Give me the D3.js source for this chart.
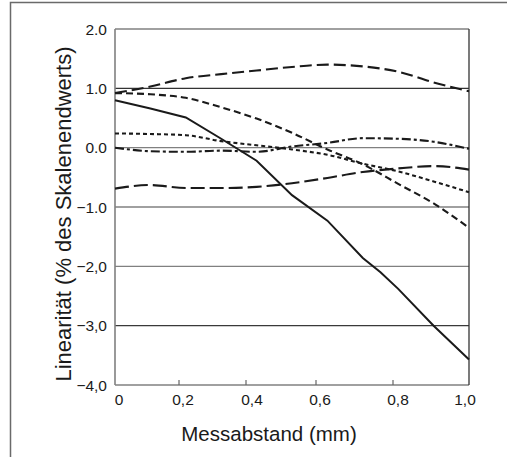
<!DOCTYPE html>
<html><head><meta charset="utf-8">
<script src="https://cdn.jsdelivr.net/npm/d3@7"></script>
<style>body{margin:0;background:#fff}svg{display:block}text{font-family:"Liberation Sans",Arial,Helvetica,sans-serif;fill:#1a1a1a}</style>
</head><body>
<svg id="c" width="507" height="457"></svg>
<script>
const xs = [0, 0.1, 0.2, 0.3, 0.4, 0.5, 0.6, 0.7, 0.8, 0.9, 1.0];
const solidX = [0, 0.1, 0.2, 0.3, 0.4, 0.5, 0.6, 0.7, 0.75, 0.8, 0.9, 1.0];
const solid = [0.80, 0.66, 0.51, 0.15, -0.22, -0.80, -1.23, -1.86, -2.10, -2.38, -3.00, -3.57];
const longDashTop = [0.92, 1.03, 1.17, 1.24, 1.30, 1.36, 1.40, 1.37, 1.28, 1.10, 0.95];
const mediumDash = [0.92, 0.90, 0.84, 0.68, 0.49, 0.25, -0.03, -0.28, -0.61, -0.94, -1.35];
const shortDash = [0.24, 0.23, 0.21, 0.11, 0.04, -0.03, -0.12, -0.27, -0.40, -0.57, -0.75];
const dashDot = [0.0, -0.06, -0.07, -0.05, -0.07, 0.02, 0.08, 0.16, 0.15, 0.10, -0.02];
const longDashBottom = [-0.69, -0.63, -0.68, -0.68, -0.66, -0.60, -0.51, -0.41, -0.35, -0.31, -0.37];

const xTickValues = [0, 0.2, 0.4, 0.6, 0.8, 1.0];
const xTickLabels = ["0", "0,2", "0,4", "0,6", "0,8", "1,0"];
const yTickValues = [2, 1, 0, -1, -2, -3, -4];
const yTickLabels = ["2.0", "1.0", "0.0", "\u22121.0", "\u22122,0", "\u22123,0", "\u22124,0"];
const gridValues = [1, 0, -1, -2, -3];
const xTitle = "Messabstand (mm)";
const yTitle = "Linearit\u00e4t (% des Skalenendwerts)";

const svg = d3.select("#c");
const L = 115, R = 469, T = 29, B = 385;
const x = d3.scaleLinear().domain([0, 1]).range([L, R]);
// drawn tick marks in the original are unevenly spaced
const xTick = d3.scaleLinear().domain(xTickValues).range([115, 179, 246, 316, 393, 469]);
const y = d3.scaleLinear().domain([-4, 2]).range([B, T]);

// outer frame
svg.append("path").attr("d", `M10.5,${457}V2.5H${507}`).attr("fill", "none").attr("stroke", "#6a6a6a").attr("stroke-width", 1.5);

// grid
const gridColor = {"1": "#333", "0": "#808080", "-1": "#808080", "-2": "#808080", "-3": "#3a3a3a"};
svg.append("g").selectAll("line").data(gridValues).join("line")
  .attr("x1", L).attr("x2", R).attr("y1", d => y(d)).attr("y2", d => y(d))
  .attr("stroke", d => gridColor[d]).attr("stroke-width", 1.3);

// plot frame
svg.append("line").attr("x1", L).attr("x2", R).attr("y1", T).attr("y2", T).attr("stroke", "#808080").attr("stroke-width", 1.4);
svg.append("line").attr("x1", L).attr("x2", R).attr("y1", B).attr("y2", B).attr("stroke", "#808080").attr("stroke-width", 1.5);
svg.append("line").attr("x1", L).attr("x2", L).attr("y1", T).attr("y2", B).attr("stroke", "#808080").attr("stroke-width", 1.6);
svg.append("line").attr("x1", R).attr("x2", R).attr("y1", T).attr("y2", B).attr("stroke", "#333").attr("stroke-width", 1.3);

// x ticks
svg.append("g").selectAll("line").data(xTickValues.slice(1, -1)).join("line")
  .attr("x1", d => xTick(d)).attr("x2", d => xTick(d)).attr("y1", B).attr("y2", B - 5)
  .attr("stroke", "#666").attr("stroke-width", 1.2);
const xdx = [4, 4, 6, 4, 5, -4];
svg.append("g").selectAll("text").data(xTickValues).join("text")
  .attr("x", (d, i) => xTick(d) + xdx[i]).attr("y", 405)
  .attr("text-anchor", "middle").attr("font-size", 15.5).text((d, i) => xTickLabels[i]);

// y tick labels
svg.append("g").selectAll("text").data(yTickValues).join("text")
  .attr("x", 107).attr("y", d => y(d)).attr("dy", "0.36em")
  .attr("text-anchor", "end").attr("font-size", 15.5).text((d, i) => yTickLabels[i]);

// titles
svg.append("text").attr("x", 269).attr("y", 441).attr("text-anchor", "middle").attr("font-size", 20.5).text(xTitle);
svg.append("text").attr("transform", "translate(71,214) rotate(-90)").attr("text-anchor", "middle").attr("font-size", 22).text(yTitle);

// series
const lineC = d3.line().x(d => x(d[0])).y(d => y(d[1])).curve(d3.curveMonotoneX);
const lineL = d3.line().x(d => x(d[0])).y(d => y(d[1]));
const series = [
  {vals: longDashTop, dash: "12,5"},
  {vals: mediumDash, dash: "7,4"},
  {vals: shortDash, dash: "4,3"},
  {vals: dashDot, dash: "9,3,3,3"},
  {vals: longDashBottom, dash: "14,5"}
];
svg.append("g").selectAll("path").data(series).join("path")
  .attr("d", s => lineC(xs.map((xv, i) => [xv, s.vals[i]])))
  .attr("fill", "none").attr("stroke", "#1a1a1a").attr("stroke-width", 2.1)
  .attr("stroke-dasharray", s => s.dash);
svg.append("path").attr("d", lineL(solidX.map((xv, i) => [xv, solid[i]])))
  .attr("fill", "none").attr("stroke", "#1a1a1a").attr("stroke-width", 2);
</script>
</body></html>
